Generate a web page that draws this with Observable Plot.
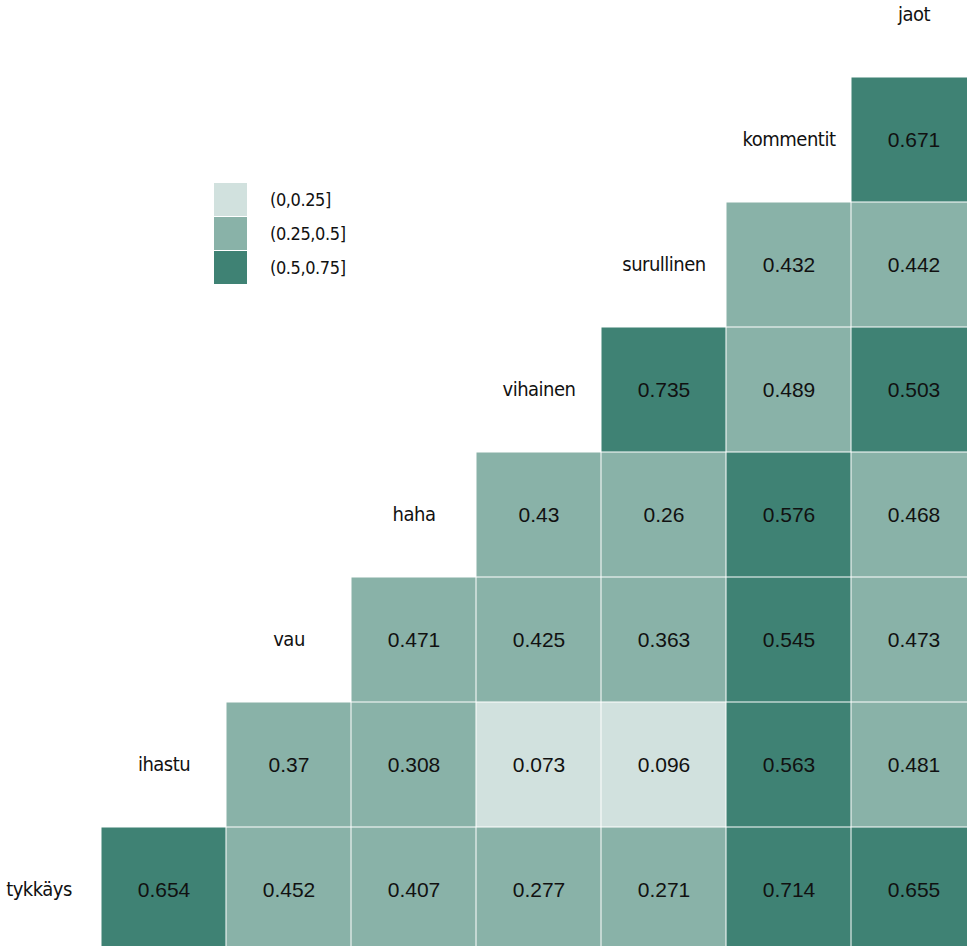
<!DOCTYPE html>
<html>
<head>
<meta charset="utf-8">
<script src="https://cdn.jsdelivr.net/npm/d3@7"></script>
<script src="https://cdn.jsdelivr.net/npm/@observablehq/plot@0.6"></script>
<style>
  html, body { margin: 0; padding: 0; background: #fff; }
  #wrap { position: relative; width: 967px; height: 946px; overflow: hidden; }
  #legend { position: absolute; left: 214px; top: 182px; font-family: "DejaVu Sans Condensed", sans-serif; font-size: 18px; letter-spacing: -0.4px; color: #111; }
  .row { display: flex; align-items: center; height: 34px; }
  .sw { width: 33px; height: 33px; margin-right: 23px; }
  g.nums text { font-family: "Liberation Sans", Arial, sans-serif; }
  g.labs text { font-family: "DejaVu Sans Condensed", sans-serif; letter-spacing: -0.5px; }
</style>
</head>
<body>
<div id="wrap"><div id="legend"></div></div>
<script>
// variables (order along the diagonal, bottom-left to top-right)
const vars = ["tykkäys", "ihastu", "vau", "haha", "vihainen", "surullinen", "kommentit", "jaot"];
// correlations of each row variable with the variables after it
const tykkays = [0.654, 0.452, 0.407, 0.277, 0.271, 0.714, 0.655];
const ihastu = [0.37, 0.308, 0.073, 0.096, 0.563, 0.481];
const vau = [0.471, 0.425, 0.363, 0.545, 0.473];
const haha = [0.43, 0.26, 0.576, 0.468];
const vihainen = [0.735, 0.489, 0.503];
const surullinen = [0.432, 0.442];
const kommentit = [0.671];
const rows = [tykkays, ihastu, vau, haha, vihainen, surullinen, kommentit];

// bins
const binLabels = ["(0,0.25]", "(0.25,0.5]", "(0.5,0.75]"];
const binBreaks = [0.25, 0.5];
const binColors = ["#d1e1de", "#89b2a8", "#3f8274"];

const cells = [];
rows.forEach((vals, i) => {
  vals.forEach((v, k) => {
    cells.push({row: vars[i], col: vars[i + 1 + k], value: v});
  });
});
const diag = vars.map(v => ({v}));

const chart = Plot.plot({
  width: 967,
  height: 946,
  margin: 0,
  x: {type: "band", domain: vars, range: [-25.2, 976.2], padding: 0, axis: null},
  y: {type: "band", domain: vars.slice().reverse(), range: [-49, 953], padding: 0, axis: null},
  color: {type: "threshold", domain: binBreaks, range: binColors},
  marks: [
    Plot.cell(cells, {x: "col", y: "row", fill: "value", inset: 0.5}),
    Plot.text(cells, {x: "col", y: "row", text: d => String(d.value), fill: "#111",
      fontSize: 21, className: "nums"}),
    Plot.text(diag, {x: "v", y: "v", text: "v", fill: "#111",
      fontSize: 20, className: "labs"})
  ]
});
document.getElementById("wrap").prepend(chart);

const legend = document.getElementById("legend");
binLabels.forEach((lab, i) => {
  const r = document.createElement("div");
  r.className = "row";
  const s = document.createElement("div");
  s.className = "sw";
  s.style.background = binColors[i];
  const t = document.createElement("span");
  t.textContent = lab;
  r.appendChild(s); r.appendChild(t);
  legend.appendChild(r);
});
</script>
</body>
</html>
